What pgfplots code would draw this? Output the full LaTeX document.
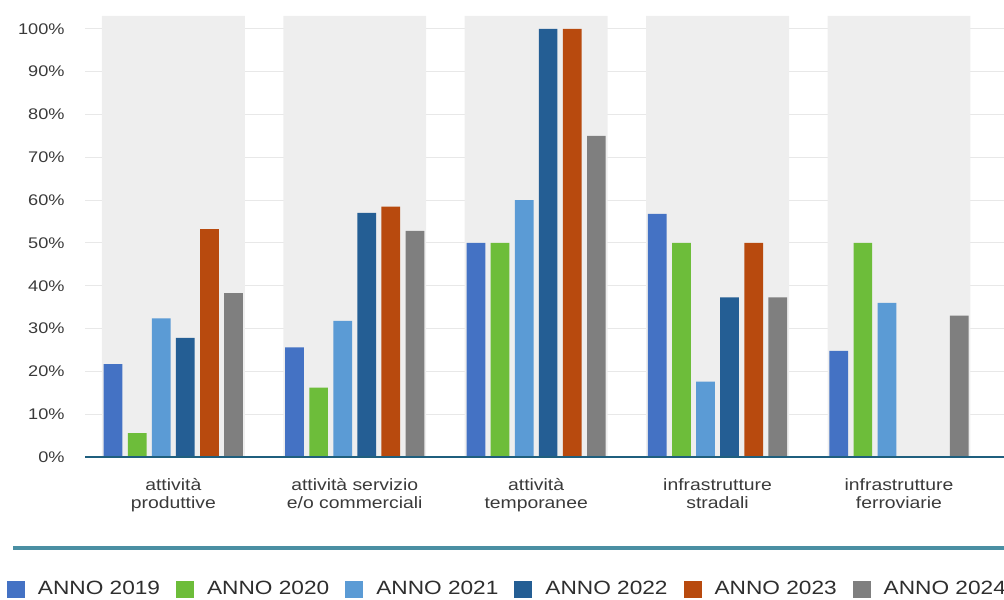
\documentclass[border=0pt]{standalone}
\usepackage{fontspec}
\setmainfont{Liberation Sans}[FakeStretch=1.18]
\usepackage{pgfplots}
\pgfplotsset{compat=1.18}
\definecolor{cA}{HTML}{4472C4}
\definecolor{cB}{HTML}{6DBD3A}
\definecolor{cC}{HTML}{5B9BD5}
\definecolor{cD}{HTML}{245E94}
\definecolor{cE}{HTML}{B84A0E}
\definecolor{cF}{HTML}{7F7F7F}
\definecolor{band}{HTML}{EEEEEE}
\definecolor{axisblue}{HTML}{1F5F7E}
\definecolor{sepline}{HTML}{4A8FA3}
\definecolor{txt}{HTML}{3A3A3A}
\begin{document}
\begin{tikzpicture}
\useasboundingbox (0,0) rectangle (502pt,299.5pt);
\begin{axis}[
  at={(42.5pt,71pt)}, anchor=south west,
  scale only axis, width=459.5pt, height=220.5pt,
  xmin=-0.4868, xmax=4.579, ymin=0, ymax=103,
  axis x line*=bottom, axis y line*=left,
  y axis line style={draw=none},
  x axis line style={draw=none},
  major tick length=0pt,
  xtick={0,1,2,3,4},
  xticklabels={{attività\\produttive},{attività servizio\\e/o commerciali},{attività\\temporanee},{infrastrutture\\stradali},{infrastrutture\\ferroviarie}},
  xticklabel style={align=center, anchor=north, inner sep=0pt, yshift=-10.5pt, font=\fontsize{8.2}{9}\selectfont, text=txt},
  ytick={0,10,...,100},
  yticklabels={0\%,10\%,20\%,30\%,40\%,50\%,60\%,70\%,80\%,90\%,100\%},
  yticklabel style={anchor=east, inner sep=0pt, xshift=-10pt, font=\fontsize{7.7}{9}\selectfont, text=txt},
  ymajorgrids, grid style={color=black!9, line width=0.5pt},
  legend columns=6,
  legend image code/.code={\fill[#1] (0pt,-4.3pt) rectangle (9pt,4.3pt);},
  legend style={at={(axis description cs:-0.0849,-0.3)}, anchor=west, draw=none, fill=none,
    inner sep=0pt, outer sep=0pt, nodes={inner sep=0pt, text=black!82},
    font=\fontsize{9.6}{11}\selectfont,
    /tikz/every odd column/.append style={column sep=6.5pt},
    /tikz/every even column/.append style={column sep=8pt}},
]
\addplot[ybar, bar width=0.788, bar shift=0, fill=band, draw=none, forget plot]
  coordinates {(0,103) (1,103) (2,103) (3,103) (4,103)};
\addplot[ybar, bar width=0.103, bar shift=-0.332, fill=cA, draw=none]
  coordinates {(0,21.7) (1,25.6) (2,50) (3,56.8) (4,24.8)};
\addplot[ybar, bar width=0.103, bar shift=-0.199, fill=cB, draw=none]
  coordinates {(0,5.6) (1,16.2) (2,50) (3,50) (4,50)};
\addplot[ybar, bar width=0.103, bar shift=-0.066, fill=cC, draw=none]
  coordinates {(0,32.4) (1,31.8) (2,60) (3,17.6) (4,36.0)};
\addplot[ybar, bar width=0.103, bar shift=0.066, fill=cD, draw=none]
  coordinates {(0,27.8) (1,57.0) (2,100) (3,37.3)};
\addplot[ybar, bar width=0.103, bar shift=0.199, fill=cE, draw=none]
  coordinates {(0,53.2) (1,58.5) (2,100) (3,50)};
\addplot[ybar, bar width=0.103, bar shift=0.332, fill=cF, draw=none]
  coordinates {(0,38.3) (1,52.8) (2,75) (3,37.3) (4,33.0)};
\legend{ANNO 2019, ANNO 2020, ANNO 2021, ANNO 2022, ANNO 2023, ANNO 2024}
\draw[axisblue, line width=1.4pt] (rel axis cs:0,0) -- (rel axis cs:1,0);
\end{axis}
\draw[sepline, line width=2pt] (6.5pt,25.5pt) -- (502pt,25.5pt);
\end{tikzpicture}
\end{document}
